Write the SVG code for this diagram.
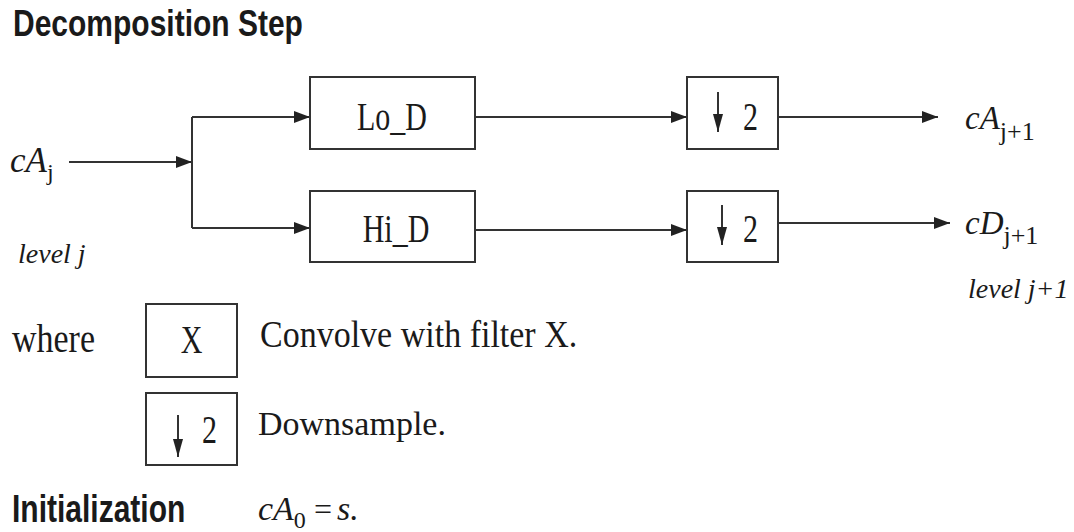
<svg xmlns="http://www.w3.org/2000/svg" width="1074" height="532" viewBox="0 0 1074 532">
<style>
.box{fill:#fff;stroke:#333;stroke-width:2}
.ln{fill:none;stroke:#333;stroke-width:2}
.hd{font-family:"Liberation Sans",Arial,sans-serif;font-weight:bold;font-size:30px;fill:#1a1a1a}
.sr{font-family:"Liberation Serif","Times New Roman",serif;font-size:34px;fill:#1a1a1a}
.lb{font-family:"Liberation Serif","Times New Roman",serif;font-size:30px;fill:#1a1a1a}
.it{font-family:"Liberation Serif","Times New Roman",serif;font-style:italic;fill:#1a1a1a}
.sub{font-style:normal}
</style>
<defs>
<marker id="ah" viewBox="0 0 16 12" refX="16" refY="6" markerWidth="16" markerHeight="12" markerUnits="userSpaceOnUse" orient="auto">
<path d="M0,0 L16,6 L0,12 Z" fill="#222"/>
</marker>
<marker id="dn" viewBox="0 0 10 18" refX="5" refY="18" markerWidth="10" markerHeight="18" markerUnits="userSpaceOnUse" orient="0">
<path d="M0,0 L10,0 L5,18 Z" fill="#222"/>
</marker>
</defs>
<rect width="1074" height="532" fill="#fff"/>
<text class="hd" transform="translate(13,36) scale(1,1.2)">Decomposition Step</text>

<g id="connectors">
<path class="ln" d="M69,162 L192,162" marker-end="url(#ah)"/>
<path class="ln" d="M192,117 L192,228"/>
<path class="ln" d="M192,117 L310,117" marker-end="url(#ah)"/>
<path class="ln" d="M192,228 L310,228" marker-end="url(#ah)"/>
<path class="ln" d="M475,117 L687,117" marker-end="url(#ah)"/>
<path class="ln" d="M475,230 L687,230" marker-end="url(#ah)"/>
<path class="ln" d="M778,117 L938,117" marker-end="url(#ah)"/>
<path class="ln" d="M778,223 L950,223" marker-end="url(#ah)"/>
</g>

<g id="input">
<text class="it" x="10" y="172" font-size="35">cA<tspan class="sub" font-size="24" dy="8">j</tspan></text>
<text class="it" x="18" y="263" font-size="28">level j</text>
</g>

<g id="lo_d">
<rect class="box" x="310" y="77" width="165" height="72"/>
<text class="lb" text-anchor="middle" transform="translate(392,130) scale(1,1.35)">Lo_D</text>
</g>
<g id="hi_d">
<rect class="box" x="310" y="191" width="165" height="71"/>
<text class="lb" text-anchor="middle" transform="translate(396,242) scale(1,1.35)">Hi_D</text>
</g>
<g id="down_lo">
<rect class="box" x="687" y="77" width="91" height="72"/>
<path class="ln" d="M718,92 L718,132" marker-end="url(#dn)"/>
<text class="lb" transform="translate(743,130) scale(1,1.3)">2</text>
</g>
<g id="down_hi">
<rect class="box" x="687" y="191" width="91" height="71"/>
<path class="ln" d="M722,205 L722,245" marker-end="url(#dn)"/>
<text class="lb" transform="translate(743,242) scale(1,1.3)">2</text>
</g>

<g id="out_a">
<text class="it" x="965" y="129" font-size="33">cA<tspan class="sub" font-size="26" dy="11">j+1</tspan></text>
</g>
<g id="out_d">
<text class="it" x="965" y="234" font-size="33">cD<tspan class="sub" font-size="26" dy="10">j+1</tspan></text>
<text class="it" x="968" y="298" font-size="28">level j+1</text>
</g>

<g id="legend">
<text class="sr" transform="translate(12,352) scale(1,1.15)">where</text>
<rect class="box" x="146" y="304" width="91" height="73"/>
<text class="lb" text-anchor="middle" transform="translate(191.5,353) scale(1,1.3)">X</text>
<text class="sr" transform="translate(260,347) scale(1,1.1)">Convolve with filter X.</text>
<rect class="box" x="146" y="393" width="91" height="72"/>
<path class="ln" d="M178,415 L178,457" marker-end="url(#dn)"/>
<text class="lb" transform="translate(202,443) scale(1,1.3)">2</text>
<text class="sr" x="258" y="435">Downsample.</text>
</g>

<g id="init">
<text class="hd" transform="translate(12,522) scale(1,1.3)">Initialization</text>
<text class="it" x="258" y="520" font-size="34">cA<tspan class="sub" font-size="24" dy="8">0</tspan><tspan class="sub" font-size="32" dy="-8" x="314">=</tspan><tspan x="337">s.</tspan></text>
</g>
</svg>
